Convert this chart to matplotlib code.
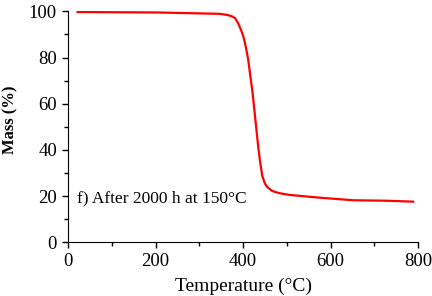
import matplotlib
matplotlib.use("Agg")
import matplotlib.pyplot as plt
from matplotlib.ticker import MultipleLocator

temperature = [22, 100, 200, 302, 347, 365, 375, 382, 389, 397, 402, 407, 412, 422, 430, 435, 439,
               444, 450, 455, 460, 466, 475, 485, 507, 553, 576, 652, 728, 789]
mass = [99.7, 99.6, 99.5, 99.1, 98.9, 98.4, 97.8, 97.0, 94.8, 91.2, 88.3, 84.0, 78.9, 64.5, 50.0, 41.0, 35.0,
        28.8, 25.5, 24.0, 23.2, 22.3, 21.7, 21.2, 20.5, 19.7, 19.3, 18.2, 18.0, 17.6]
annotation = "f) After 2000 h at 150°C"

plt.rcParams['font.family'] = ['Liberation Serif', 'DejaVu Serif']
fig = plt.figure(figsize=(4.32, 2.96), dpi=100)
ax = fig.add_axes([68/432, 1-242.3/296, 350/432, 231/296])
ax.plot(temperature, mass, color='#ff0000', lw=1.6)
ax.set_xlim(0, 800)
ax.set_ylim(0, 100)
ax.xaxis.set_major_locator(MultipleLocator(200))
ax.xaxis.set_minor_locator(MultipleLocator(100))
ax.yaxis.set_major_locator(MultipleLocator(20))
ax.yaxis.set_minor_locator(MultipleLocator(10))
for s in ['top', 'right']:
    ax.spines[s].set_visible(False)
ax.tick_params(which='major', direction='out', length=4, width=1, labelsize=13.5, pad=4)
ax.tick_params(which='minor', direction='out', length=3, width=1)
ax.set_xlabel('Temperature (°C)', fontsize=14, labelpad=5)
ax.set_ylabel('Mass (%)', fontsize=12, fontweight='bold')
ax.yaxis.set_label_coords(-0.143, 0.53)
ax.text(20, 19, annotation, fontsize=12.5, va='center', ha='left')
fig.savefig('out.png', dpi=100)
